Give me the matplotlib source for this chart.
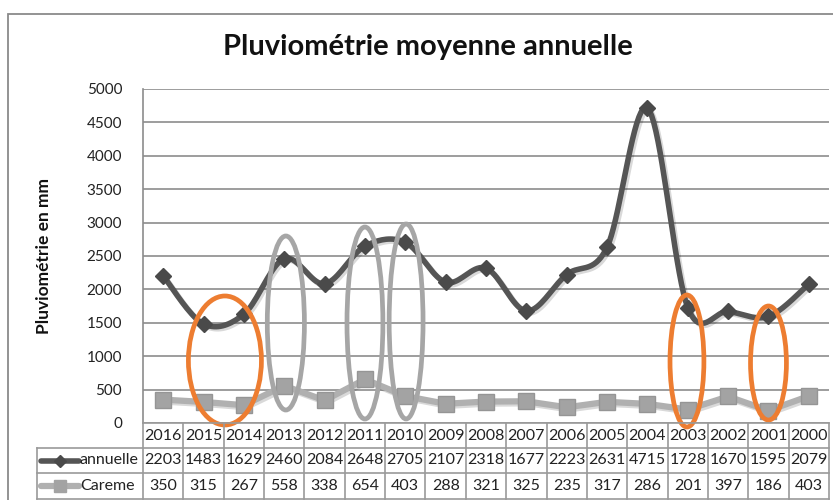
import numpy as np
import matplotlib
matplotlib.use("Agg")
import matplotlib.pyplot as plt
import matplotlib.transforms as mtransforms
import matplotlib.patheffects as pe
from matplotlib.patches import Ellipse, Rectangle
from matplotlib.lines import Line2D

# ---------------- data ----------------
years = ["2016", "2015", "2014", "2013", "2012", "2011", "2010", "2009", "2008",
         "2007", "2006", "2005", "2004", "2003", "2002", "2001", "2000"]
annuelle = [2203, 1483, 1629, 2460, 2084, 2648, 2705, 2107, 2318, 1677, 2223,
            2631, 4715, 1728, 1670, 1595, 2079]
careme = [350, 315, 267, 558, 338, 654, 403, 288, 321, 325, 235, 317, 286,
          201, 397, 186, 403]
series_names = ["annuelle", "Careme"]
title = "Pluviométrie moyenne annuelle"
ylabel = "Pluviométrie en mm"
yticks = [0, 500, 1000, 1500, 2000, 2500, 3000, 3500, 4000, 4500, 5000]

# highlight ellipses: (category centre, y centre, width in categories, height, colour)
orange = "#ED7D31"
grey_ell = "#A6A6A6"
highlights = [
    (1.53, 936, 1.81, 1931, orange),
    (3.04, 1497, 0.92, 2605, grey_ell),
    (5.0, 1497, 0.89, 2874, grey_ell),
    (6.02, 1520, 0.84, 2919, grey_ell),
    (12.98, 928, 0.84, 1976, orange),
    (15.0, 898, 0.89, 1707, orange),
]

FONT = "Lato"
plt.rcParams["font.family"] = [FONT, "DejaVu Sans"]

W, H = 833, 500
fig = plt.figure(figsize=(W / 100, H / 100), dpi=100)

# outer chart border
fig.patches.append(Rectangle((8 / W, -0.05), 1.1, 1 - 14 / H + 0.05,
                             transform=fig.transFigure, fill=False,
                             edgecolor="#8A8A8A", linewidth=1.3))

ax_l, ax_r, ax_t, ax_b = 143, 829, 89, 423
ax = fig.add_axes([ax_l / W, 1 - ax_b / H, (ax_r - ax_l) / W, (ax_b - ax_t) / H])

n = len(years)
x = np.arange(n)
ax.set_xlim(-0.5, n - 0.5)
ax.set_ylim(0, 5000)
ax.set_yticks(yticks)
ax.set_yticklabels([str(v) for v in yticks], fontsize=11, color="#222222")
ax.tick_params(axis="y", length=0, pad=15)
ax.set_xticks([])
ax.grid(axis="y", color="#8C8C8C", linewidth=1.2)
ax.set_axisbelow(True)
for s in ["top", "right", "bottom"]:
    ax.spines[s].set_visible(False)
ax.spines["left"].set_color("#8C8C8C")
ax.spines["left"].set_linewidth(1.2)


def smooth(xs, ys, k=20):
    xs = np.asarray(xs, float)
    ys = np.asarray(ys, float)
    P = np.column_stack([xs, ys])
    Pe = np.vstack([P[0], P, P[-1]])
    out = []
    t = np.linspace(0, 1, k)[:, None]
    for i in range(len(P) - 1):
        p0, p1, p2, p3 = Pe[i], Pe[i + 1], Pe[i + 2], Pe[i + 3]
        c1 = p1 + (p2 - p0) / 6
        c2 = p2 - (p3 - p1) / 6
        seg = ((1 - t) ** 3) * p1 + 3 * ((1 - t) ** 2) * t * c1 + 3 * (1 - t) * t ** 2 * c2 + t ** 3 * p2
        out.append(seg if i == 0 else seg[1:])
    out = np.vstack(out)
    return out[:, 0], out[:, 1]


shadow = [pe.SimpleLineShadow(offset=(1.5, -1.5), shadow_color="#000000", alpha=0.15), pe.Normal()]

c_ann = "#555555"
c_car = "#B0B0B0"
sx, sy = smooth(x, annuelle)
ax.plot(sx, sy, color=c_ann, linewidth=4.0, solid_capstyle="round", zorder=3,
        path_effects=shadow)
ax.plot(x, annuelle, linestyle="none", marker="D", markersize=8.5,
        color="#4A4A4A", zorder=4)

ax.plot(x, careme, color=c_car, linewidth=4.5, zorder=3, path_effects=shadow)
ax.plot(x, careme, linestyle="none", marker="s", markersize=11,
        markerfacecolor="#A3A3A3", markeredgecolor="#959595", markeredgewidth=1,
        zorder=4)

for cx, cy, w, h, col in highlights:
    ax.add_patch(Ellipse((cx, cy), w, h, fill=False, edgecolor=col,
                         linewidth=3.4, zorder=6, clip_on=False))

# title and y label
fig.text(428 / W, 1 - 47 / H, title, ha="center", va="center",
         fontsize=21, fontweight="bold", color="#111111")
fig.text(44 / W, 1 - 256 / H, ylabel, ha="center", va="center", rotation=90,
         fontsize=12.5, fontweight="bold", color="#111111")

# ---------------- data table ----------------
tr = mtransforms.blended_transform_factory(ax.transData, fig.transFigure)
tra = mtransforms.blended_transform_factory(ax.transAxes, fig.transFigure)
row_edges_px = [423, 448, 473, 499]
ry = [1 - v / H for v in row_edges_px]
lc = "#9A9A9A"
lw = 1.2
leg_left = (37 - ax_l) / (ax_r - ax_l)

fig.add_artist(Line2D([0, 1], [ry[0], ry[0]], transform=tra, color=lc, lw=lw))
for yy in ry[1:]:
    fig.add_artist(Line2D([leg_left, 1], [yy, yy], transform=tra, color=lc, lw=lw))
for i in range(n + 1):
    fig.add_artist(Line2D([i - 0.5, i - 0.5], [ry[0], ry[3]], transform=tr, color=lc, lw=lw))
fig.add_artist(Line2D([leg_left, leg_left], [ry[1], ry[3]], transform=tra, color=lc, lw=lw))

rows = [years, [str(v) for v in annuelle], [str(v) for v in careme]]
for r, vals in enumerate(rows):
    yc = (ry[r] + ry[r + 1]) / 2
    for i, v in enumerate(vals):
        fig.text(i, yc, v, transform=tr, ha="center", va="center",
                 fontsize=11.5, color="#222222")

key_x0 = (41 - ax_l) / (ax_r - ax_l)
key_x1 = (79 - ax_l) / (ax_r - ax_l)
key_xm = (key_x0 + key_x1) / 2
txt_x = (80 - ax_l) / (ax_r - ax_l)
styles = [(c_ann, 4.0, "D", 6, "#4A4A4A"), (c_car, 4.5, "s", 8, "#A3A3A3")]
for r, (name, st) in enumerate(zip(series_names, styles)):
    yc = (ry[r + 1] + ry[r + 2]) / 2
    col, lwid, mk, ms, mc = st
    fig.add_artist(Line2D([key_x0, key_x1], [yc, yc], transform=tra, color=col,
                          lw=lwid, solid_capstyle="round"))
    fig.add_artist(Line2D([key_xm], [yc], transform=tra, marker=mk, markersize=ms,
                          color=mc, linestyle="none"))
    fig.text(txt_x, yc, name, transform=tra, ha="left", va="center",
             fontsize=11.5, color="#222222")

fig.savefig("out.png", dpi=100)
